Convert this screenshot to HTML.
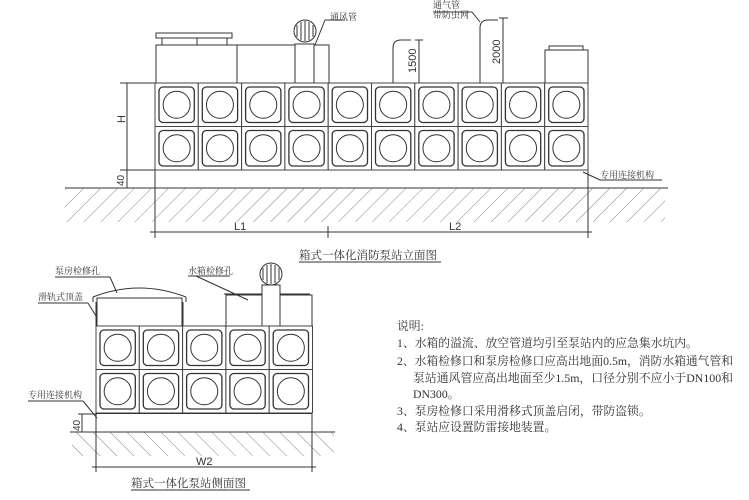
<!DOCTYPE html>
<html><head><meta charset="utf-8"><style>
html,body{margin:0;padding:0;background:#fff;width:749px;height:500px;overflow:hidden}
svg{display:block}
text{font-family:"Liberation Serif","Noto Serif CJK SC","Noto Sans CJK SC",serif;fill:#333}
.d{font-family:"Liberation Sans",sans-serif}
</style></head><body>
<svg width="749" height="500" viewBox="0 0 749 500" xmlns="http://www.w3.org/2000/svg">
<defs>
<g id="c"><rect x="0" y="0" width="43.3" height="43.5" fill="#fff" stroke="#444" stroke-width="1"/><rect x="4" y="4" width="35.3" height="35.5" rx="4" fill="none" stroke="#333" stroke-width="1.3"/><circle cx="21.65" cy="21.75" r="13.5" fill="none" stroke="#333" stroke-width="1"/></g>
<pattern id="h" width="12" height="12" patternUnits="userSpaceOnUse" patternTransform="rotate(45)"><line x1="0" y1="0" x2="0" y2="12" stroke="#666" stroke-width="0.8"/></pattern>
<pattern id="h2" width="12" height="12" patternUnits="userSpaceOnUse" patternTransform="rotate(-45)"><line x1="0" y1="0" x2="0" y2="12" stroke="#666" stroke-width="0.8"/></pattern>
</defs>
<g stroke="#333" fill="none" stroke-width="1">
<line x1="65" y1="188" x2="668" y2="188"/>
<rect x="65" y="188" width="600" height="34" fill="url(#h)" stroke="none"/>
<rect x="156" y="45" width="173" height="38" fill="#fff"/>
<line x1="237" y1="45" x2="237" y2="83"/>
<rect x="156" y="33" width="76" height="5"/>
<line x1="162" y1="38" x2="162" y2="45"/><line x1="197" y1="38" x2="197" y2="45"/><line x1="227" y1="38" x2="227" y2="45"/>
<rect x="295" y="44" width="19" height="39" fill="#fff"/>
<ellipse cx="305" cy="31" rx="11" ry="11" fill="#fff"/>
<path d="M297 25v12M301 22v18M305 21v20M309 22v18M313 25v12"/>
<line x1="315" y1="45" x2="325" y2="20"/><line x1="325" y1="20" x2="345" y2="20"/>
<path d="M393 83V48q0-8 8-8h10"/>
<path d="M480 83V28q0-8 8-8h10"/>
<line x1="419" y1="40" x2="419" y2="83"/><line x1="415" y1="40" x2="423" y2="40"/>
<line x1="503" y1="18" x2="503" y2="83"/><line x1="499" y1="18" x2="508" y2="18"/>
<line x1="480" y1="22" x2="472" y2="12"/><line x1="472" y1="12" x2="433" y2="12"/>
<rect x="545" y="50" width="43" height="33" fill="#fff"/>
<rect x="549" y="46" width="34" height="4"/>
<line x1="127" y1="83" x2="127" y2="188"/>
<line x1="120" y1="83" x2="156" y2="83"/><line x1="120" y1="170" x2="156" y2="170"/><line x1="120" y1="188" x2="135" y2="188"/>
<line x1="155" y1="170" x2="155" y2="238"/><line x1="328" y1="226" x2="328" y2="238"/><line x1="588" y1="170" x2="588" y2="238"/>
<line x1="150" y1="232" x2="592" y2="232"/>
<line x1="583" y1="172" x2="600" y2="180"/><line x1="600" y1="180" x2="662" y2="180"/>
</g>
<g>
<use href="#c" x="155" y="83"/><use href="#c" x="198.3" y="83"/><use href="#c" x="241.6" y="83"/><use href="#c" x="284.9" y="83"/><use href="#c" x="328.2" y="83"/><use href="#c" x="371.5" y="83"/><use href="#c" x="414.8" y="83"/><use href="#c" x="458.1" y="83"/><use href="#c" x="501.4" y="83"/><use href="#c" x="544.7" y="83"/>
<use href="#c" x="155" y="126.5"/><use href="#c" x="198.3" y="126.5"/><use href="#c" x="241.6" y="126.5"/><use href="#c" x="284.9" y="126.5"/><use href="#c" x="328.2" y="126.5"/><use href="#c" x="371.5" y="126.5"/><use href="#c" x="414.8" y="126.5"/><use href="#c" x="458.1" y="126.5"/><use href="#c" x="501.4" y="126.5"/><use href="#c" x="544.7" y="126.5"/>
</g>
<text class="d" x="126" y="132" font-size="11" transform="rotate(-90 121 128)">H</text>
<text class="d" x="0" y="0" font-size="10" transform="translate(124 186) rotate(-90)">40</text>
<text class="d" x="0" y="0" font-size="11" transform="translate(416 73) rotate(-90)">1500</text>
<text class="d" x="0" y="0" font-size="11" transform="translate(500 64) rotate(-90)">2000</text>
<text class="d" x="234" y="230" font-size="11">L1</text>
<text class="d" x="449" y="230" font-size="11">L2</text>
<text x="330" y="20" font-size="9">通风管</text>
<text x="433" y="8" font-size="9">通气管</text>
<text x="433" y="18" font-size="9">带防虫网</text>
<text x="600" y="178" font-size="9">专用连接机构</text>
<text x="299" y="259" font-size="11.5">箱式一体化消防泵站立面图</text>
<line x1="299" y1="262" x2="441" y2="262" stroke="#333"/>
<g stroke="#333" fill="none" stroke-width="1">
<line x1="70" y1="432" x2="335" y2="432"/>
<rect x="72" y="432" width="262" height="24" fill="url(#h2)" stroke="none"/>
<rect x="97" y="298" width="85" height="28" fill="#fff"/>
<path d="M93 297q46-18 93 0"/><line x1="93" y1="297" x2="93" y2="302"/><line x1="186" y1="297" x2="186" y2="302"/>
<line x1="96" y1="302" x2="96" y2="326"/><line x1="183" y1="302" x2="183" y2="326"/>
<rect x="226" y="295" width="86" height="31" fill="#fff"/>
<line x1="224" y1="294" x2="310" y2="294"/>
<rect x="262" y="285" width="18" height="41" fill="#fff"/>
<ellipse cx="271" cy="274" rx="11" ry="11" fill="#fff"/>
<path d="M263 268v12M267 265v18M271 264v20M275 265v18M279 268v12"/>
<line x1="110" y1="277" x2="117" y2="293"/><line x1="55" y1="277" x2="110" y2="277"/>
<line x1="196" y1="276" x2="248" y2="300"/><line x1="188" y1="276" x2="230" y2="276"/>
<line x1="38" y1="303" x2="88" y2="303"/><line x1="88" y1="303" x2="96" y2="316"/>
<line x1="28" y1="401" x2="83" y2="401"/><line x1="83" y1="401" x2="97" y2="418"/>
<line x1="82" y1="414" x2="82" y2="432"/><line x1="78" y1="414" x2="97" y2="414"/>
<line x1="96" y1="414" x2="96" y2="472"/><line x1="312" y1="414" x2="312" y2="472"/>
<line x1="92" y1="467" x2="316" y2="467"/>
</g>
<g>
<use href="#c" x="96" y="326"/><use href="#c" x="139.3" y="326"/><use href="#c" x="182.6" y="326"/><use href="#c" x="225.9" y="326"/><use href="#c" x="269.2" y="326"/>
<use href="#c" x="96" y="369.5"/><use href="#c" x="139.3" y="369.5"/><use href="#c" x="182.6" y="369.5"/><use href="#c" x="225.9" y="369.5"/><use href="#c" x="269.2" y="369.5"/>
</g>
<rect x="96" y="413" width="216" height="1" fill="#333"/>
<text class="d" x="0" y="0" font-size="10" transform="translate(80 431) rotate(-90)">40</text>
<text class="d" x="196" y="465" font-size="11">W2</text>
<text x="55" y="274" font-size="9">泵房检修孔</text>
<text x="188" y="274" font-size="9">水箱检修孔</text>
<text x="38" y="300" font-size="9">滑轨式顶盖</text>
<text x="28" y="398" font-size="9">专用连接机构</text>
<text x="131" y="487" font-size="11.5">箱式一体化泵站侧面图</text>
<line x1="131" y1="490" x2="250" y2="490" stroke="#333"/>
<g font-size="11.8">
<text x="397" y="330">说明:</text>
<text x="397" y="347">1、水箱的溢流、放空管道均引至泵站内的应急集水坑内。</text>
<text x="397" y="365" textLength="336" lengthAdjust="spacingAndGlyphs">2、水箱检修口和泵房检修口应高出地面0.5m，消防水箱通气管和</text>
<text x="413" y="382" textLength="320" lengthAdjust="spacingAndGlyphs">泵站通风管应高出地面至少1.5m，口径分别不应小于DN100和</text>
<text x="413" y="398">DN300。</text>
<text x="397" y="415">3、泵房检修口采用滑移式顶盖启闭，带防盗锁。</text>
<text x="397" y="431">4、泵站应设置防雷接地装置。</text>
</g>
</svg>
</body></html>
